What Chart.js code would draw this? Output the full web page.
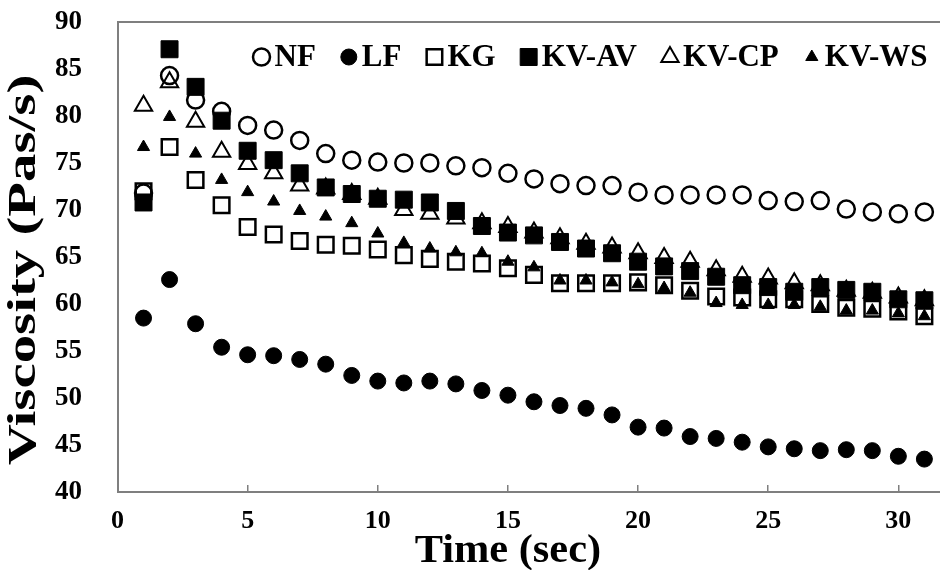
<!DOCTYPE html>
<html>
<head>
<meta charset="utf-8">
<title>Viscosity vs Time</title>
<script src="https://cdn.jsdelivr.net/npm/chart.js@4.4.1/dist/chart.umd.min.js"></script>
<style>
  html, body { margin: 0; padding: 0; background: #fff; }
  #wrap { width: 940px; height: 570px; }
</style>
</head>
<body>
<div id="wrap"><canvas id="viscosityChart" width="940" height="570"></canvas></div>
<script>
const timeSec = [1, 2, 3, 4, 5, 6, 7, 8, 9, 10, 11, 12, 13, 14, 15, 16, 17, 18, 19, 20, 21, 22, 23, 24, 25, 26, 27, 28, 29, 30, 31];

const nfValues = [71.8, 84.3, 81.7, 80.5, 79.0, 78.5, 77.4, 76.0, 75.3, 75.1, 75.0, 75.0, 74.7, 74.5, 73.9, 73.3, 72.8, 72.6, 72.6, 71.9, 71.6, 71.6, 71.6, 71.6, 71.0, 70.9, 71.0, 70.1, 69.8, 69.6, 69.8];
const lfValues = [58.5, 62.6, 57.9, 55.4, 54.6, 54.5, 54.1, 53.6, 52.4, 51.8, 51.6, 51.8, 51.5, 50.8, 50.3, 49.6, 49.2, 48.9, 48.2, 46.9, 46.8, 45.9, 45.7, 45.3, 44.8, 44.6, 44.4, 44.5, 44.4, 43.8, 43.5];
const kgValues = [72.0, 76.7, 73.2, 70.5, 68.2, 67.4, 66.7, 66.3, 66.2, 65.8, 65.2, 64.8, 64.5, 64.3, 63.8, 63.1, 62.2, 62.2, 62.2, 62.3, 62.0, 61.4, 60.8, 60.7, 60.5, 60.5, 60.0, 59.6, 59.5, 59.2, 58.7];
const kvAvValues = [70.8, 87.1, 83.1, 79.5, 76.3, 75.3, 73.9, 72.4, 71.7, 71.2, 71.1, 70.8, 69.9, 68.3, 67.6, 67.3, 66.6, 65.9, 65.4, 64.5, 64.0, 63.5, 62.9, 62.0, 61.8, 61.3, 61.8, 61.5, 61.3, 60.5, 60.4];
const kvCpValues = [81.1, 83.6, 79.4, 76.2, 74.9, 73.9, 72.6, 72.3, 71.7, 71.2, 70.0, 69.6, 69.1, 68.6, 68.2, 67.6, 67.0, 66.4, 66.0, 65.4, 64.9, 64.5, 63.6, 62.9, 62.7, 62.2, 62.0, 61.4, 61.2, 60.7, 60.4];
const kvWsValues = [76.7, 79.9, 76.0, 73.2, 71.9, 70.9, 69.9, 69.3, 68.6, 67.5, 66.5, 65.9, 65.5, 65.4, 64.5, 63.9, 62.5, 62.5, 62.3, 62.1, 61.7, 61.2, 60.1, 59.9, 59.9, 59.9, 59.7, 59.3, 59.3, 59.0, 58.7];

const seriesNames = ["NF", "LF", "KG", "KV-AV", "KV-CP", "KV-WS"];
const seriesValues = [nfValues, lfValues, kgValues, kvAvValues, kvCpValues, kvWsValues];

const xTickValues = [0, 5, 10, 15, 20, 25, 30];
const yTickValues = [40, 45, 50, 55, 60, 65, 70, 75, 80, 85, 90];
const xTitle = "Time (sec)";
const yTitle = "Viscosity (Pas/s)";

// marker look per series (open markers have no fill, like the Excel original)
const markerStyles = [
  { style: "circle", radius: 8.5, filled: false, border: 2.5 },
  { style: "circle", radius: 8, filled: true, border: 1 },
  { style: "rect", radius: 11, filled: false, border: 2.5 },
  { style: "rect", radius: 12, filled: true, border: 1 },
  { style: "triangle", radius: 10, filled: false, border: 2 },
  { style: "triangle", radius: 7, filled: true, border: 1 },
];

const serif = "'Liberation Serif', 'Times New Roman', serif";
const axisGrey = "#7f7f7f";

const datasets = seriesNames.map(function (name, i) {
  const m = markerStyles[i];
  return {
    label: name,
    data: timeSec.map(function (t, j) {
      return { x: t, y: seriesValues[i][j] };
    }),
    pointStyle: m.style,
    pointRadius: m.radius,
    pointHoverRadius: m.radius,
    borderWidth: m.border,
    pointBorderWidth: m.border,
    borderColor: "#000",
    backgroundColor: m.filled ? "#000" : "rgba(0,0,0,0)",
    // later series drawn on top, as in the source sheet
    order: seriesNames.length - i,
  };
});

// legend sits inside the plot box, so draw it ourselves
const insideLegend = {
  id: "insideLegend",
  afterDatasetsDraw(chart) {
    const ctx = chart.ctx;
    const area = chart.chartArea;
    const y = area.top + 35;
    let x = area.left + 144;
    ctx.save();
    ctx.font = "bold 31px " + serif;
    ctx.textBaseline = "middle";
    ctx.textAlign = "left";
    chart.data.datasets.forEach(function (ds) {
      ctx.fillStyle = ds.backgroundColor;
      ctx.strokeStyle = ds.borderColor;
      ctx.lineWidth = ds.borderWidth;
      Chart.helpers.drawPoint(ctx, {
        pointStyle: ds.pointStyle,
        radius: ds.pointRadius,
        borderWidth: ds.borderWidth,
        rotation: 0,
      }, x, y);
      ctx.fillStyle = "#000";
      ctx.fillText(ds.label, x + 13, y + 1);
      x += 13 + ctx.measureText(ds.label).width + 33;
    });
    ctx.restore();
  },
};

// top edge of the plot frame
const topFrame = {
  id: "topFrame",
  beforeDatasetsDraw(chart) {
    const ctx = chart.ctx;
    const area = chart.chartArea;
    ctx.save();
    ctx.strokeStyle = axisGrey;
    ctx.lineWidth = 2;
    ctx.beginPath();
    ctx.moveTo(area.left, area.top);
    ctx.lineTo(area.right, area.top);
    ctx.stroke();
    ctx.restore();
  },
};

// axis titles: the source picture has them stretched, so draw with a scale
const axisTitles = {
  id: "axisTitles",
  afterDraw(chart) {
    const ctx = chart.ctx;
    const area = chart.chartArea;
    const xs = chart.scales.x;
    const midTick = (xTickValues[0] + xTickValues[xTickValues.length - 1]) / 2;
    ctx.save();
    ctx.fillStyle = "#000";
    ctx.textAlign = "center";
    ctx.textBaseline = "middle";

    ctx.font = "bold 40px " + serif;
    ctx.save();
    ctx.translate(xs.getPixelForValue(midTick), 552);
    ctx.scale(1.06, 1);
    ctx.fillText(xTitle, 0, 0);
    ctx.restore();

    ctx.save();
    ctx.translate(25, (area.top + area.bottom) / 2 + 13);
    ctx.rotate(-Math.PI / 2);
    ctx.scale(1.42, 1);
    ctx.fillText(yTitle, 0, 0);
    ctx.restore();

    ctx.restore();
  },
};

const ctx = document.getElementById("viscosityChart").getContext("2d");
new Chart(ctx, {
  type: "scatter",
  data: { datasets: datasets },
  plugins: [topFrame, insideLegend, axisTitles],
  options: {
    responsive: false,
    animation: false,
    events: [],
    layout: {
      autoPadding: false,
      padding: { left: 49.5, top: 22, right: 0, bottom: 12 },
    },
    plugins: {
      legend: { display: false },
      tooltip: { enabled: false },
    },
    scales: {
      x: {
        type: "linear",
        min: 0,
        max: 31.6,
        afterBuildTicks: function (scale) {
          scale.ticks = xTickValues.map(function (v) { return { value: v }; });
        },
        grid: {
          drawOnChartArea: false,
          drawTicks: true,
          tickLength: -7,
          color: axisGrey,
          lineWidth: 1.5,
        },
        border: { display: true, color: axisGrey, width: 2 },
        ticks: {
          color: "#000",
          padding: 23.5,
          maxRotation: 0,
          font: { family: serif, size: 26, weight: "bold", lineHeight: 1 },
        },
      },
      y: {
        type: "linear",
        min: 40,
        max: 90,
        afterBuildTicks: function (scale) {
          scale.ticks = yTickValues.map(function (v) { return { value: v }; });
        },
        // hidden tick length keeps the labels away from the axis
        grid: { display: false, drawTicks: true, tickLength: 30 },
        border: { display: true, color: axisGrey, width: 2 },
        ticks: {
          color: "#000",
          padding: 5.5,
          font: { family: serif, size: 27, weight: "bold", lineHeight: 1 },
        },
      },
    },
  },
});
</script>
</body>
</html>
